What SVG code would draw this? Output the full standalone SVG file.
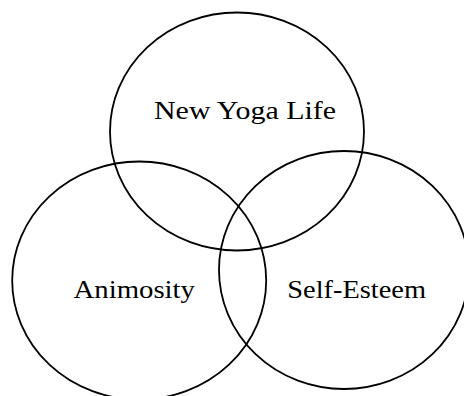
<svg xmlns="http://www.w3.org/2000/svg" width="464" height="396" viewBox="0 0 464 396">
<style>
.c{fill:none;stroke:#000;stroke-width:1.8}
.t{font-family:"Liberation Serif","Times New Roman",serif;font-size:25px;fill:#000}
</style>
<rect width="464" height="396" fill="#fff"/>
<g id="yoga"><ellipse class="c" cx="237" cy="131.5" rx="127" ry="119"/>
<text class="t" x="154" y="119.3" textLength="182" lengthAdjust="spacingAndGlyphs">New Yoga Life</text></g>
<g id="animosity"><ellipse class="c" cx="139.2" cy="280.5" rx="127" ry="119"/>
<text class="t" x="73.5" y="298.3" textLength="121.5" lengthAdjust="spacingAndGlyphs">Animosity</text></g>
<g id="selfesteem"><ellipse class="c" cx="344" cy="270" rx="125" ry="119"/>
<text class="t" x="287.3" y="298.3" textLength="138.7" lengthAdjust="spacingAndGlyphs">Self-Esteem</text></g>
<g id="connectors"/>
</svg>
